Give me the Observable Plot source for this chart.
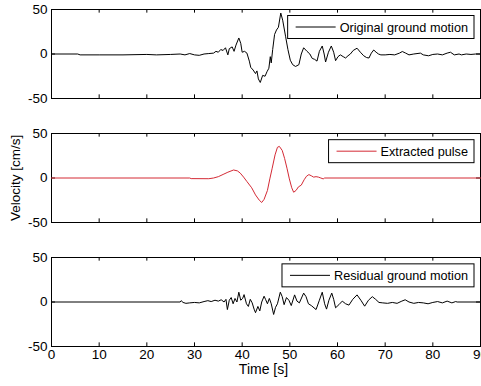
<!DOCTYPE html>
<html><head><meta charset="utf-8">
<script src="https://cdn.jsdelivr.net/npm/d3@7"></script>
<script src="https://cdn.jsdelivr.net/npm/@observablehq/plot@0.6"></script>
<style>body{margin:0;background:#fff} svg{display:block}</style>
</head><body><div id="chart"></div>
<script>
const panels = ["Original ground motion", "Extracted pulse", "Residual ground motion"];
const colors = ["#000000", "#d42a35", "#000000"];
const xTicks = [0, 10, 20, 30, 40, 50, 60, 70, 80, 90];
const yTicks = [-50, 0, 50];
const xLabel = "Time [s]";
const yLabel = "Velocity [cm/s]";

const origT = [0,5.5,6,10,15,20,22,25,27,28,29,30,31,32,33,34,34.5,35,35.5,36,36.5,37,37.3,37.9,38.3,38.7,39.3,39.7,40,40.5,41,41.5,41.8,42.3,42.8,43.1,43.4,43.8,44.3,44.8,45.2,45.6,45.9,46.1,46.4,46.8,47.2,47.6,48.1,48.5,49.1,49.6,50.1,50.6,51.2,51.9,52.4,52.9,53.6,54.2,54.7,55.2,55.7,56.2,56.8,57.2,57.5,58.1,58.7,59.2,59.6,60.1,60.6,61.2,61.7,62.2,62.7,63.3,64.1,64.8,65.5,66.1,66.6,67.1,67.6,68.1,68.6,69.1,70,71,72,73,73.6,74.3,75,76,77.4,78,79.1,80,81,82,83,83.7,84.5,85.5,86,87,88,89,90];
const origV = [0,0,-1,-1,-1,-0.5,-1,-0.5,0,-1,0.5,-1,-1.5,0,0.5,1,3,2,5,4,7,-1,6,8,3,10,18,12,2,3,1,-8,-15,-18,-22,-19,-28,-32,-24,-25,-20,-16,-3,-10,5,22,27,30,46,38,20,5,-7,-12,-14,-12,0,7,3,0,-5,-6,-8,3,9,0,-9,2,9,2,-7.5,-3,-1,-3,-4.5,-2,0,4,6.5,2,-2,-4,-4.5,1,4.5,2,0,-1,-1,-0.5,-1,1,2.8,1,-1,0,1,-1,-2,-0.5,0,-1,1,2,-1,0,-1,0,-0.5,0,0];

const pulseT = [0,29,29.3,33,34,35,36,37,38.2,39,39.6,40.3,41,42,42.8,43.6,44.1,44.6,45.3,45.8,46.3,46.9,47.4,47.8,48.4,48.9,49.4,49.9,50.4,50.8,51.3,51.8,52.4,53,53.5,54,54.5,55,55.5,56,56.5,57,57.3,90];
const pulseV = [0,0,-0.7,-0.8,0,1.5,4,6.5,9,8,5.5,1,-4,-11,-19,-25,-27.5,-24,-14,-1,11,26,34.5,35.5,31,22,11,-1,-11,-16,-14,-10,-8,-2,2,3.8,2.5,1,1.5,1,0,-1,0,0];

const resT = [0,27,27.2,27.6,28.2,29,30,31,32,32.8,33.5,34.3,35,35.6,36.2,36.6,36.9,37.3,37.7,38.1,38.5,38.9,39.3,39.7,40.1,40.4,40.9,41.3,41.7,42.1,42.5,42.8,43.3,43.7,44.1,44.6,44.9,45.3,45.7,46.1,46.6,47,47.4,48,48.4,48.8,49.3,49.8,50.3,51,51.5,52,52.9,53.4,53.9,54.5,55.5,56.2,56.8,57.3,57.7,58.2,58.8,59.2,59.6,60.3,61,61.7,62.4,63.2,64.1,64.9,65.7,66.5,67.3,68,68.7,69.5,70.5,71.5,72.5,73.5,74.2,75,76,77,78,79,80,81,82,83,84,84.8,85.1,90];
const resV = [0,0,1.5,-0.5,-1.5,-1,-0.5,-1,0.5,1.5,0.5,2,1,2.5,0,3,-8.5,2,5,-2,4,0,11,2,4,8.3,-2,-5,3,-1,-8,-12,-5,-10,0,6.5,3,-2,4,-2,-14,-6,-2,11,6,-3,5,2,-4,8,1,-1,10,6,-2,-4,-8.5,2,11,-2,-8,2,10,3,-6.5,-3,1,-2,-3.5,3,8,2,-4.7,2,6,3,-0.5,-1,-1.5,-0.5,-1.5,1,2.5,0,-1.5,-0.5,-1,-2,-0.5,0.5,-1,1,-1,0.5,0,0];

const rows = [];
function add(p, T, V) { T.forEach((t, i) => rows.push({panel: p, t, v: V[i]})); }
add(panels[0], origT, origV);
add(panels[1], pulseT, pulseV);
add(panels[2], resT, resV);

const W = 481, H = 386, mL = 51, mR = 1, mT = 9, mB = 39.3;
const pad = 0.2805;
const fyRange = H - mT - mB;
const step = fyRange / (3 - pad);
const bw = step * (1 - pad);
const plotW = W - mL - mR;
const tick = 4;
const font = "'Liberation Sans', Arial, Helvetica, sans-serif";

const chart = Plot.plot({
  width: W, height: H,
  marginLeft: mL, marginRight: mR, marginTop: mT, marginBottom: mB,
  style: {fontFamily: font, fontSize: "13.5px", background: "#fff", color: "#000", overflow: "visible"},
  x: {domain: [0, 90]},
  y: {domain: [-50, 50]},
  fy: {domain: panels, paddingInner: pad, paddingOuter: 0, axis: null},
  color: {domain: panels, range: colors},
  marks: [
    Plot.frame({stroke: "#000", strokeWidth: 1}),
    Plot.tickX(xTicks, {x: d => d, insetBottom: bw - tick, stroke: "#000"}),
    Plot.tickX(xTicks, {x: d => d, insetTop: bw - tick, stroke: "#000"}),
    Plot.tickY(yTicks, {y: d => d, insetRight: plotW - tick, stroke: "#000"}),
    Plot.tickY(yTicks, {y: d => d, insetLeft: plotW - tick, stroke: "#000"}),
    Plot.line(rows, {x: "t", y: "v", fy: "panel", stroke: "panel", strokeWidth: 1}),
    Plot.axisY({ticks: yTicks, tickSize: 0, tickPadding: 4, tickFormat: d => String(d), label: null}),
    Plot.axisX({ticks: xTicks, tickSize: 0, tickPadding: 3, tickFormat: d => String(d), label: null})
  ]
});
document.getElementById("chart").appendChild(chart);

const svg = d3.select(chart);
panels.forEach((p, i) => {
  const top = mT + i * step;
  const g = svg.append("g").attr("font-family", font).attr("font-size", 12.7).attr("text-anchor", "start");
  const rect = g.append("rect");
  const line = g.append("line");
  const txt = g.append("text").text(p).attr("fill", "#000").attr("text-anchor", "start");
  const tw = txt.node().getComputedTextLength();
  const boxRight = mL + plotW - 6;
  const boxTop = top + 6.5;
  const textX = boxRight - 6 - tw;
  const lineEnd = textX - 4, lineStart = lineEnd - 40;
  const boxLeft = lineStart - 8;
  rect.attr("x", boxLeft).attr("y", boxTop).attr("width", boxRight - boxLeft).attr("height", 23)
    .attr("fill", "#fff").attr("stroke", "#000");
  line.attr("x1", lineStart).attr("x2", lineEnd).attr("y1", boxTop + 11.5).attr("y2", boxTop + 11.5)
    .attr("stroke", colors[i]).attr("stroke-width", 1);
  txt.attr("x", textX).attr("y", boxTop + 16);
});
svg.append("text").text(yLabel)
  .attr("transform", `translate(15,${mT + step + bw / 2}) rotate(-90)`)
  .attr("text-anchor", "middle").attr("dominant-baseline", "central")
  .attr("font-family", font).attr("font-size", 13.5).attr("fill", "#000");
svg.append("text").text(xLabel)
  .attr("x", mL + plotW / 2 - 2).attr("y", 374)
  .attr("text-anchor", "middle")
  .attr("font-family", font).attr("font-size", 14).attr("fill", "#000");
</script>
</body></html>
